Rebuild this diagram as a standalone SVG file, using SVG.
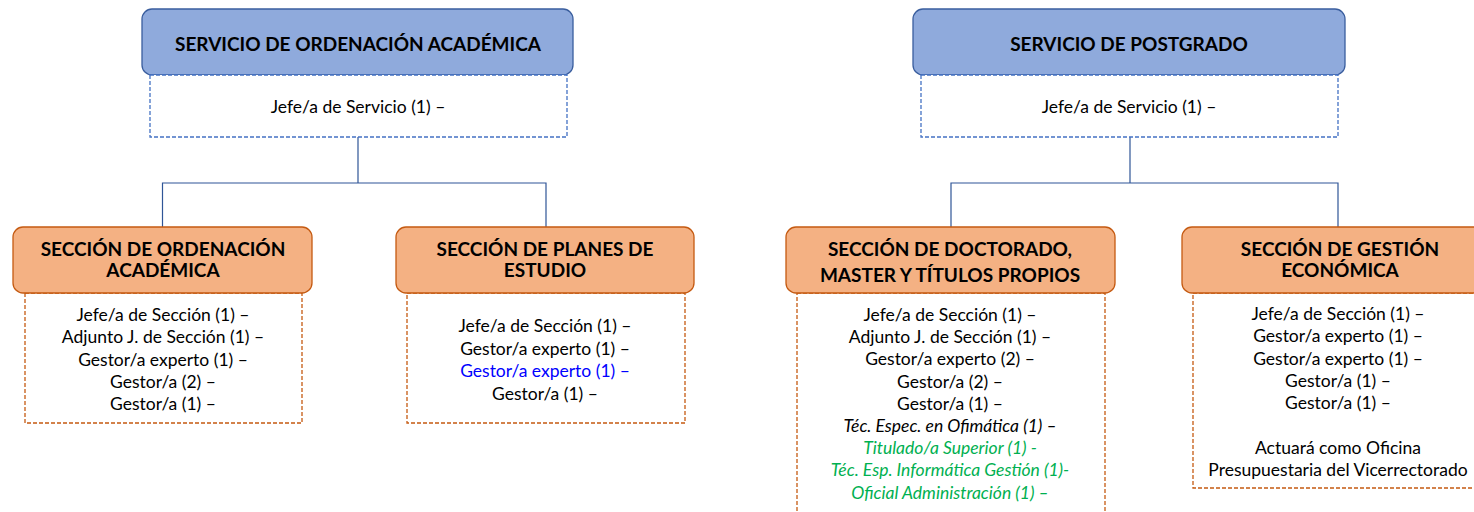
<svg xmlns="http://www.w3.org/2000/svg" width="1474" height="512" viewBox="0 0 1474 512">
<style>
.svc{fill:#8FAADC;stroke:#3A5E9E;stroke-width:1.3}
.sec{fill:#F4B183;stroke:#C55A11;stroke-width:1.3}
.dblue{fill:#fff;stroke:#4472C4;stroke-width:1.3;stroke-dasharray:4 2}
.dor{fill:#fff;stroke:#C55A11;stroke-width:1.3;stroke-dasharray:4 2}
.conn{fill:none;stroke:#2F5597;stroke-width:1.2}
text{font-family:Lato,"Open Sans","Liberation Sans",sans-serif;text-anchor:middle;fill:#000}
.h{font-weight:bold;font-size:19px}
.b{font-size:17.5px}
.blue{fill:#0000FF}
.green{fill:#00B050;font-style:italic}
.it{font-style:italic}
</style>
<g id="connectors">
<path class="conn" d="M358,137V183M162.5,227V183H546V227"/>
<path class="conn" d="M1130,137V183M951,227V183H1338V227"/>
</g>
<g id="svc-oa">
<rect class="svc" x="142" y="9" width="431" height="66" rx="10"/>
<rect class="dblue" x="150" y="75" width="417" height="62"/>
<text class="h" x="358" y="51">SERVICIO DE ORDENACIÓN ACADÉMICA</text>
<text class="b" x="358" y="113">Jefe/a de Servicio (1) –</text>
</g>
<g id="sec-oa">
<rect class="dor" x="25" y="293" width="277" height="130"/>
<rect class="sec" x="13" y="227" width="299" height="66" rx="10"/>
<text class="h" x="163" y="256">SECCIÓN DE ORDENACIÓN</text>
<text class="h" x="163" y="277">ACADÉMICA</text>
<text class="b" x="163" y="321">Jefe/a de Sección (1) –</text>
<text class="b" x="163" y="343">Adjunto J. de Sección (1) –</text>
<text class="b" x="163" y="365.5">Gestor/a experto (1) –</text>
<text class="b" x="163" y="387.5">Gestor/a (2) –</text>
<text class="b" x="163" y="410">Gestor/a (1) –</text>
</g>
<g id="sec-pe">
<rect class="dor" x="407" y="293" width="278" height="130"/>
<rect class="sec" x="396" y="227" width="298" height="66" rx="10"/>
<text class="h" x="545" y="256">SECCIÓN DE PLANES DE</text>
<text class="h" x="545" y="277">ESTUDIO</text>
<text class="b" x="545" y="332">Jefe/a de Sección (1) –</text>
<text class="b" x="545" y="354.5">Gestor/a experto (1) –</text>
<text class="b blue" x="545" y="377">Gestor/a experto (1) –</text>
<text class="b" x="545" y="399.5">Gestor/a (1) –</text>
</g>
<g id="svc-pg">
<rect class="svc" x="913" y="9" width="432" height="66" rx="10"/>
<rect class="dblue" x="921" y="75" width="417" height="62"/>
<text class="h" x="1129" y="51">SERVICIO DE POSTGRADO</text>
<text class="b" x="1129" y="113">Jefe/a de Servicio (1) –</text>
</g>
<g id="sec-doc">
<rect class="dor" x="797" y="293" width="308" height="230"/>
<rect class="sec" x="786" y="227" width="329" height="66" rx="10"/>
<text class="h" x="950" y="256">SECCIÓN DE DOCTORADO,</text>
<text class="h" x="950" y="282">MASTER Y TÍTULOS PROPIOS</text>
<text class="b" x="950" y="321">Jefe/a de Sección (1) –</text>
<text class="b" x="950" y="343.2">Adjunto J. de Sección (1) –</text>
<text class="b" x="950" y="365.4">Gestor/a experto (2) –</text>
<text class="b" x="950" y="387.6">Gestor/a (2) –</text>
<text class="b" x="950" y="409.8">Gestor/a (1) –</text>
<text class="b it" x="950" y="432">Téc. Espec. en Ofimática (1) –</text>
<text class="b green" x="950" y="454.2">Titulado/a Superior (1) -</text>
<text class="b green" x="950" y="476.4">Téc. Esp. Informática Gestión (1)-</text>
<text class="b green" x="950" y="498.6">Oficial Administración (1) –</text>
</g>
<g id="sec-ge">
<rect class="dor" x="1193" y="293" width="300" height="195"/>
<rect class="sec" x="1182" y="227" width="320" height="66" rx="10"/>
<text class="h" x="1340" y="256">SECCIÓN DE GESTIÓN</text>
<text class="h" x="1340" y="277">ECONÓMICA</text>
<text class="b" x="1338" y="320">Jefe/a de Sección (1) –</text>
<text class="b" x="1338" y="342">Gestor/a experto (1) –</text>
<text class="b" x="1338" y="364.5">Gestor/a experto (1) –</text>
<text class="b" x="1338" y="387">Gestor/a (1) –</text>
<text class="b" x="1338" y="409">Gestor/a (1) –</text>
<text class="b" x="1338" y="453.7">Actuará como Oficina</text>
<text class="b" x="1338" y="475.5">Presupuestaria del Vicerrectorado</text>
</g>
</svg>
